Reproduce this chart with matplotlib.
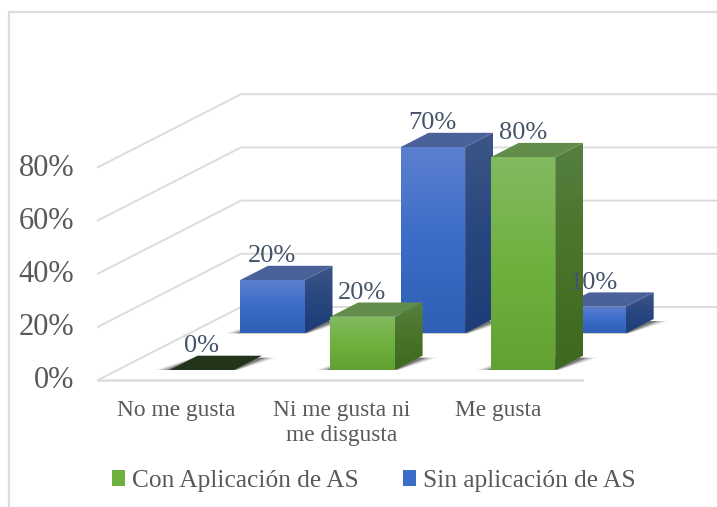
import numpy as np
import matplotlib
matplotlib.use("Agg")
import matplotlib.pyplot as plt
from matplotlib.patches import Polygon, Patch
from matplotlib.colors import LinearSegmentedColormap

plt.rcParams['font.family'] = ['Liberation Serif', 'DejaVu Serif']

categories = ["No me gusta", "Ni me gusta ni\nme disgusta", "Me gusta"]
con_as = [0, 20, 80]
sin_as = [20, 70, 10]
series_names = ["Con Aplicación de AS", "Sin aplicación de AS"]
ticks = [0, 20, 40, 60, 80]
tick_labels = ["0%", "20%", "40%", "60%", "80%"]

W, H = 717, 507
PCT = 2.66
FLOOR_Y = 380
FRONT_X, BACK_X = 98, 241
BACK_DY = 73
FLOOR_RIGHT = 582
SLOT = 160.6
BAR_W = 64.5
DX, DY = 28, 14.3

GREEN = dict(x0=169.5, base=370.0,
             front=["#82ba60", "#6fb13f", "#62a133"],
             side=["#557f3f", "#4a7429", "#3f6820"],
             top="#628c4a", zero="#22351a")
BLUE = dict(x0=240.0, base=333.3,
            front=["#5c80cf", "#3b6cc8", "#2f60b5"],
            side=["#3d5687", "#28467f", "#1e3d78"],
            top="#4a6299", zero="#22351a")

fig = plt.figure(figsize=(W / 100, H / 100), dpi=100)
ax = fig.add_axes([0, 0, 1, 1])
ax.set_xlim(0, W)
ax.set_ylim(H, 0)
ax.axis("off")

GRID = "#dcdcdc"
# outer chart frame
ax.plot([9, 9, W], [H, 11.5, 11.5], color="#dcdcdc", lw=1.6, zorder=1, solid_joinstyle="miter")

# back wall / side wall gridlines
for t, lab in zip(ticks, tick_labels):
    y = FLOOR_Y - t * PCT
    ax.plot([FRONT_X, BACK_X, W], [y, y - BACK_DY, y - BACK_DY], color=GRID, lw=1.4, zorder=1)
    ax.text(74, y + 1, lab, ha="right", va="center", fontsize=22, color="#595959")
ax.plot([FRONT_X, FLOOR_RIGHT], [FLOOR_Y, FLOOR_Y], color=GRID, lw=1.8, zorder=1)


def gradient_face(pts, colors, zorder):
    pts = np.array(pts)
    cmap = LinearSegmentedColormap.from_list("f", colors)
    grad = np.linspace(0, 1, 64).reshape(-1, 1)
    im = ax.imshow(grad, cmap=cmap, aspect="auto", zorder=zorder,
                   extent=(pts[:, 0].min(), pts[:, 0].max(), pts[:, 1].max(), pts[:, 1].min()))
    im.set_clip_path(Polygon(pts, closed=True, transform=ax.transData))


def shadow(x, base, zorder):
    for grow, a in [(14, .10), (10, .16), (6, .22), (3, .30)]:
        pts = [(x - grow, base), (x + BAR_W + grow * .3, base),
               (x + BAR_W + DX + grow, base - DY + 2), (x + DX - grow * .3, base - DY + 2)]
        ax.add_patch(Polygon(pts, closed=True, fc="#1a1a1a", ec="none", alpha=a, zorder=zorder))


def bar(x, base, value, style, zorder):
    h = value * PCT
    top = base - h
    shadow(x, base, zorder)
    if value == 0:
        ax.add_patch(Polygon([(x, base), (x + BAR_W, base), (x + BAR_W + DX, base - DY), (x + DX, base - DY)],
                             closed=True, fc=style["zero"], ec="none", zorder=zorder + .4))
    else:
        gradient_face([(x + BAR_W, base), (x + BAR_W + DX, base - DY), (x + BAR_W + DX, top - DY), (x + BAR_W, top)],
                      style["side"], zorder + .1)
        ax.add_patch(Polygon([(x, top), (x + BAR_W, top), (x + BAR_W + DX, top - DY), (x + DX, top - DY)],
                             closed=True, fc=style["top"], ec="none", zorder=zorder + .2))
        gradient_face([(x, base), (x + BAR_W, base), (x + BAR_W, top), (x, top)], style["front"], zorder + .3)
    return x + BAR_W / 2, top


labels = []
for i, v in enumerate(sin_as):
    labels.append((bar(BLUE["x0"] + i * SLOT, BLUE["base"], v, BLUE, 2 + i * .01), v))
for i, v in enumerate(con_as):
    labels.append((bar(GREEN["x0"] + i * SLOT, GREEN["base"], v, GREEN, 3 + i * .01), v))

for (cx, top), v in labels:
    ax.text(cx, top - 24, f"{v}%", ha="center", va="center", fontsize=19, color="#44546a", zorder=6)

for cx, cat in zip([176, 342, 498], categories):
    ax.text(cx, 400, cat, ha="center", va="top", fontsize=16.8, color="#595959", linespacing=1.22, zorder=6)

handles = [Patch(fc=GREEN["front"][1], ec="none", label=series_names[0]),
           Patch(fc=BLUE["front"][1], ec="none", label=series_names[1])]
leg = ax.legend(handles=handles, ncol=2, loc="center", bbox_to_anchor=(374 / W, 1 - 481 / H),
                frameon=False, fontsize=18.3, labelcolor="#595959",
                handlelength=.5, handleheight=.55, handletextpad=.28, columnspacing=1.75,
                borderpad=0)

ax.set_xlim(0, W)
ax.set_ylim(H, 0)
fig.savefig("out.png", dpi=100)
